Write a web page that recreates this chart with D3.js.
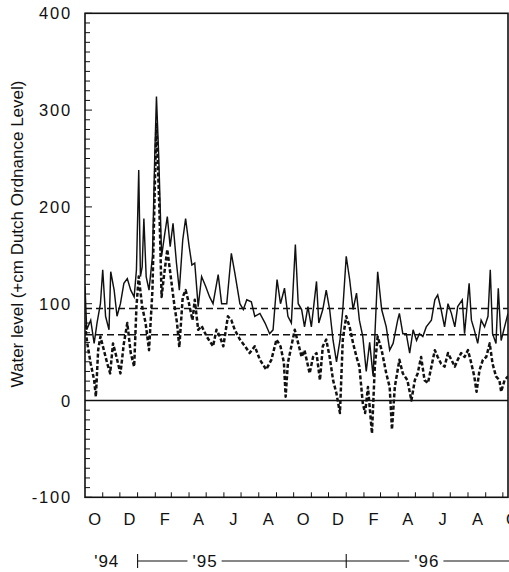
<!DOCTYPE html>
<html>
<head>
<meta charset="utf-8">
<script src="https://cdn.jsdelivr.net/npm/d3@7"></script>
<style>
  html, body { margin: 0; padding: 0; background: #fff; }
  svg { display: block; }
  text { font-family: "Liberation Sans", Arial, Helvetica, sans-serif; fill: #111; }
</style>
</head>
<body>
<svg id="chart" width="509" height="572"></svg>
<script>
// ---- Data ----
// Days are counted from 1 October 1994.
const solidDay = [0,3,10,16,21,27,31,36,42,45,51,56,62,68,74,80,86,90,94,97,100,103,107,112,118,122,125,129,134,139,144,149,154,160,165,171,176,182,187,192,198,204,211,218,224,233,239,248,256,262,271,277,283,291,297,306,315,323,329,336,342,349,355,361,368,373,379,384,390,396,405,409,416,422,428,434,440,446,451,457,463,469,475,480,486,492,498,504,512,519,527,533,539,547,550,556,562,568,574,580,585,591,597,606,612,617,623,629,635,641,647,652,660,664,672,676,681,687,693,699,705,709,713,719,723,728,734,740];
const solidLevel = [118,73,83,59,80,100,135,87,73,133,114,87,100,121,126,114,107,135,238,128,138,188,128,114,149,252,314,252,149,170,190,159,183,142,114,166,188,160,140,142,97,128,118,107,100,130,100,100,152,132,100,94,104,102,87,90,80,69,73,125,100,116,87,80,161,100,94,76,97,76,123,80,94,114,94,62,40,62,94,149,125,94,111,83,66,30,60,25,133,94,76,52,59,83,90,69,69,49,73,62,69,66,76,83,104,109,94,76,100,90,76,97,104,69,121,83,73,59,83,76,87,135,69,59,116,62,76,90];

const dottedDay = [0,4,10,16,19,23,27,33,39,44,49,55,62,68,74,80,86,90,94,100,106,112,118,122,125,130,134,138,144,150,156,161,165,171,176,182,188,192,198,204,213,224,230,236,242,250,256,262,271,280,288,297,306,317,326,335,342,348,351,355,361,367,373,379,384,393,399,405,411,416,422,428,434,440,446,451,457,463,469,475,480,486,490,495,502,507,512,519,527,533,537,542,550,556,564,571,577,582,588,594,600,606,612,617,623,629,635,641,647,652,658,664,670,676,681,685,690,696,702,708,713,719,725,728,734,740];
const dottedLevel = [78,59,38,21,4,52,66,52,38,28,59,45,28,59,80,49,35,97,128,97,80,52,114,218,287,201,107,128,156,128,100,80,55,107,114,100,83,104,73,77,66,56,73,66,56,87,83,73,63,56,49,56,42,32,42,63,56,39,4,39,56,73,59,45,52,28,45,49,21,56,63,45,21,7,-13,63,87,76,59,45,35,-3,-13,14,-34,35,66,52,28,14,-30,14,42,28,21,0,21,28,45,21,18,35,52,45,38,35,49,42,35,42,49,45,52,38,25,9,31,42,45,59,38,25,21,9,21,25];

const referenceLevels = [95, 68];          // dashed horizontal lines
const yMajorTicks = [-100, 0, 100, 200, 300, 400];
const monthLabels = ["O","D","F","A","J","A","O","D","F","A","J","A","O"];
const yearLabels = ["'94", "'95", "'96"];
const axisTitle = "Water level (+cm Dutch Ordnance Level)";

(function draw() {
  const svg = d3.select("#chart");
  const pLeft = 85, pRight = 508, pTop = 13.3, pBottom = 497.3;
  const start = new Date(1994, 9, 1);
  const end = new Date(1996, 9, 10);
  const ink = "#111";

  const x = d3.scaleTime().domain([start, end]).range([pLeft, pRight]);
  const y = d3.scaleLinear().domain([-100, 400]).range([pBottom, pTop]);
  const dayDate = d => d3.timeDay.offset(start, d);

  svg.append("defs").append("clipPath").attr("id", "plotclip")
    .append("rect").attr("x", pLeft).attr("y", pTop).attr("width", pRight - pLeft).attr("height", pBottom - pTop);

  const plot = svg.append("g").attr("clip-path", "url(#plotclip)");

  // zero line
  plot.append("line")
    .attr("x1", pLeft).attr("x2", pRight).attr("y1", y(0)).attr("y2", y(0))
    .attr("stroke", ink).attr("stroke-width", 1.4);

  // reference dashed lines
  plot.selectAll("line.ref").data(referenceLevels).enter().append("line")
    .attr("class", "ref")
    .attr("x1", pLeft).attr("x2", pRight)
    .attr("y1", d => y(d)).attr("y2", d => y(d))
    .attr("stroke", ink).attr("stroke-width", 1.4)
    .attr("stroke-dasharray", "7,4");

  const solidData = solidDay.map((d, i) => ({ date: dayDate(d), v: solidLevel[i] }));
  const dottedData = dottedDay.map((d, i) => ({ date: dayDate(d), v: dottedLevel[i] }));
  const line = d3.line().x(d => x(d.date)).y(d => y(d.v));

  plot.append("path").datum(dottedData)
    .attr("d", line).attr("fill", "none")
    .attr("stroke", ink).attr("stroke-width", 2.5)
    .attr("stroke-dasharray", "4,2.2")
    .attr("stroke-linejoin", "round");

  plot.append("path").datum(solidData)
    .attr("d", line).attr("fill", "none")
    .attr("stroke", ink).attr("stroke-width", 1.45)
    .attr("stroke-linejoin", "miter");

  // frame
  svg.append("rect")
    .attr("x", pLeft).attr("y", pTop).attr("width", pRight - pLeft).attr("height", pBottom - pTop)
    .attr("fill", "none").attr("stroke", ink).attr("stroke-width", 1.6);

  // y axis ticks (inside)
  const yMinor = d3.range(-100, 401, 10);
  svg.append("g").selectAll("line").data(yMinor).enter().append("line")
    .attr("x1", pLeft).attr("x2", d => pLeft + (d % 100 === 0 ? 7 : 5))
    .attr("y1", d => y(d)).attr("y2", d => y(d))
    .attr("stroke", ink).attr("stroke-width", 1);

  svg.append("g").selectAll("text").data(yMajorTicks).enter().append("text")
    .attr("x", 72).attr("y", d => y(d))
    .attr("text-anchor", "end").attr("dominant-baseline", "central")
    .attr("font-size", 16.5).attr("letter-spacing", 1.8)
    .text(d => d);

  // x axis ticks at month boundaries (inside)
  const months = d3.timeMonth.range(start, end);
  svg.append("g").selectAll("line").data(months.slice(1)).enter().append("line")
    .attr("x1", d => x(d)).attr("x2", d => x(d))
    .attr("y1", pBottom).attr("y2", pBottom - 5)
    .attr("stroke", ink).attr("stroke-width", 1);

  // month labels at centres of every other month
  const labelMonths = d3.timeMonth.range(start, new Date(1996, 10, 1)).filter((m, i) => i % 2 === 0);
  svg.append("g").selectAll("text").data(labelMonths).enter().append("text")
    .attr("x", d => x(d3.timeDay.offset(d, 15)) + 1)
    .attr("y", 525)
    .attr("text-anchor", "middle")
    .attr("font-size", 16.5)
    .text((d, i) => monthLabels[i]);

  // year row
  const yearY = 561;
  const yearG = svg.append("g");
  const jan95 = new Date(1995, 0, 1), jan96 = new Date(1996, 0, 1);
  yearG.append("line").attr("x1", x(jan95)).attr("x2", 509).attr("y1", yearY).attr("y2", yearY)
    .attr("stroke", ink).attr("stroke-width", 1.1);
  [jan95, jan96].forEach(d => {
    yearG.append("line").attr("x1", x(d)).attr("x2", x(d)).attr("y1", yearY - 7).attr("y2", yearY + 7)
      .attr("stroke", ink).attr("stroke-width", 1.1);
  });
  const yearPos = [new Date(1994, 10, 8), new Date(1995, 3, 29), new Date(1996, 4, 21)];
  yearLabels.forEach((lab, i) => {
    const t = yearG.append("text")
      .attr("x", x(yearPos[i])).attr("y", 567)
      .attr("text-anchor", "middle")
      .attr("font-size", 17).attr("letter-spacing", 1)
      .text(lab);
    const bb = t.node().getBBox();
    yearG.insert("rect", "text")
      .attr("x", bb.x - 5).attr("y", yearY - 3).attr("width", bb.width + 9).attr("height", 6)
      .attr("fill", "#fff");
  });

  // axis title
  svg.append("text")
    .attr("transform", "translate(23,234) rotate(-90)")
    .attr("text-anchor", "middle")
    .attr("font-size", 17)
    .text(axisTitle);
})();
</script>
</body>
</html>
